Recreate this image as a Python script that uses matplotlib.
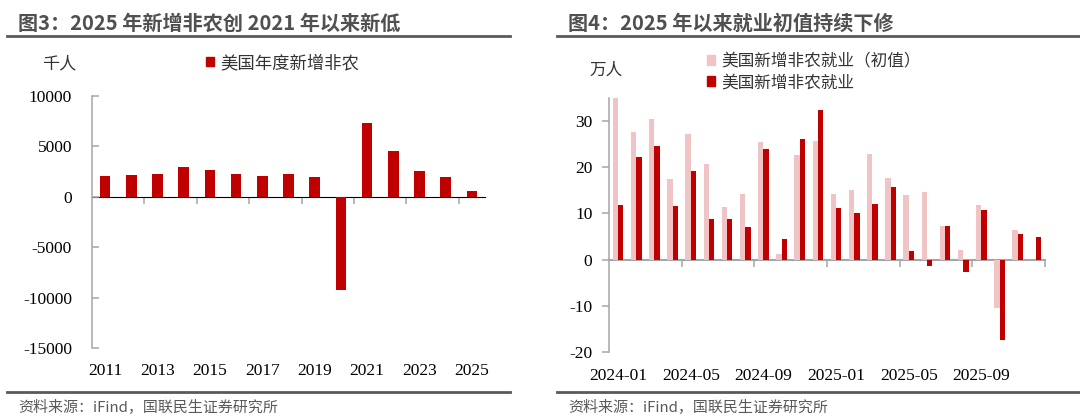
import numpy as np
import matplotlib
matplotlib.use("Agg")
import matplotlib.pyplot as plt
from matplotlib.lines import Line2D
from matplotlib.patches import Patch
from matplotlib.ticker import NullFormatter

plt.rcParams['font.family'] = ['Liberation Serif', 'Noto Sans CJK SC']
plt.rcParams['axes.unicode_minus'] = False

# ---------------- data ----------------
years = ['2011', '2012', '2013', '2014', '2015', '2016', '2017', '2018',
         '2019', '2020', '2021', '2022', '2023', '2024', '2025']
annual_payrolls = [2020, 2185, 2250, 2980, 2680, 2285, 2090, 2250,
                   1990, -9300, 7250, 4500, 2580, 1990, 530]

months = ['2024-01', '2024-02', '2024-03', '2024-04', '2024-05', '2024-06',
          '2024-07', '2024-08', '2024-09', '2024-10', '2024-11', '2024-12',
          '2025-01', '2025-02', '2025-03', '2025-04', '2025-05', '2025-06',
          '2025-07', '2025-08', '2025-09', '2025-10', '2025-11', '2025-12']
initial_payrolls = [35.3, 27.5, 30.3, 17.5, 27.2, 20.6, 11.4, 14.2, 25.4, 1.2,
                    22.7, 25.6, 14.3, 15.1, 22.8, 17.7, 13.9, 14.7, 7.3, 2.2,
                    11.9, -10.5, 6.4, np.nan]
revised_payrolls = [11.8, 22.2, 24.6, 11.7, 19.2, 8.7, 8.8, 7.1, 24.0, 4.4,
                    26.1, 32.3, 11.1, 10.2, 12.0, 15.8, 1.9, -1.3, 7.2, -2.6,
                    10.8, -17.3, 5.6, 5.0]

left_title = '图3：2025 年新增非农创 2021 年以来新低'
right_title = '图4：2025 年以来就业初值持续下修'
source_text = '资料来源：iFind，国联民生证券研究所'

# ---------------- style ----------------
W, H = 1080, 419
DARK = '#C00000'
LIGHT = '#F0C4C4'
AX_GRAY = '#A6A6A6'
TITLE_GRAY = '#505050'
CJK = ['Noto Sans CJK SC', 'DejaVu Sans']

fig = plt.figure(figsize=(W / 100, H / 100), dpi=100)


def fx(px):
    return px / W


def fy(py):
    return 1 - py / H


# titles and rules
for x0, x1, tx, title in [(7, 510, 18, left_title), (557, 1080, 568, right_title)]:
    fig.text(fx(tx), fy(23), title, fontsize=14.5, fontweight='bold',
             color=TITLE_GRAY, family=CJK, va='center', ha='left')
    fig.add_artist(Line2D([fx(x0), fx(x1)], [fy(36), fy(36)],
                          color='#595959', lw=2.0))
    fig.add_artist(Line2D([fx(x0), fx(x1)], [fy(392), fy(392)],
                          color='#595959', lw=2.0))
    fig.text(fx(tx), fy(407.5), source_text, fontsize=10.8, color='#595959',
             family=CJK, va='center', ha='left')

# ---------------- left chart ----------------
axL = fig.add_axes([fx(92), fy(348), fx(393), (348 - 95.7) / H])
xL = np.arange(len(years))
axL.bar(xL, annual_payrolls, width=0.4, color=DARK, zorder=3)
axL.set_xlim(-0.5, len(years) - 0.5)
axL.set_ylim(-15000, 10000)
axL.set_yticks([10000, 5000, 0, -5000, -10000, -15000])
for s in ['top', 'right', 'bottom']:
    axL.spines[s].set_visible(False)
axL.spines['left'].set_color(AX_GRAY)
axL.spines['left'].set_linewidth(1.1)
axL.tick_params(axis='y', direction='in', length=5, width=1.1, color=AX_GRAY,
                pad=14.4, labelsize=12.5, labelcolor='black')
axL.set_xticks(xL[::2])
axL.set_xticklabels(years[::2])
axL.tick_params(axis='x', length=0, pad=11, labelsize=12.5, labelcolor='black')
zero_frac_L = (0 - (-15000)) / (10000 - (-15000))
secL = axL.secondary_xaxis(zero_frac_L)
secL.set_xticks(np.arange(1.5, len(years) - 1, 2))
secL.xaxis.set_major_formatter(NullFormatter())
secL.tick_params(axis='x', direction='in', length=5, width=1.1, color=AX_GRAY,
                 labelbottom=False, labeltop=False)
secL.spines['bottom'].set_color(AX_GRAY)
secL.spines['bottom'].set_linewidth(1.5)

fig.text(fx(59), fy(63), '千人', fontsize=12.3, color='#333333', family=CJK,
         va='center', ha='center')
legL = fig.legend(handles=[Patch(color=DARK, label='美国年度新增非农')],
                  loc='center left', bbox_to_anchor=(fx(206), fy(63)),
                  frameon=False, borderpad=0, borderaxespad=0,
                  handlelength=0.45, handleheight=0.45, handletextpad=0.4,
                  prop={'family': CJK, 'size': 12.5})
for t in legL.get_texts():
    t.set_color('#333333')

# ---------------- right chart ----------------
axR = fig.add_axes([fx(609), fy(352.3), fx(436), (352.3 - 97.7) / H])
xR = np.arange(len(months))
bw = 0.29
axR.bar(xR - bw / 2, initial_payrolls, width=bw, color=LIGHT, zorder=3,
        label='美国新增非农就业（初值）')
axR.bar(xR + bw / 2, revised_payrolls, width=bw, color=DARK, zorder=3,
        label='美国新增非农就业')
axR.set_xlim(-0.5, len(months) - 0.5)
axR.set_ylim(-20, 35)
axR.set_yticks([30, 20, 10, 0, -10, -20])
for s in ['top', 'right', 'bottom']:
    axR.spines[s].set_visible(False)
axR.spines['left'].set_color(AX_GRAY)
axR.spines['left'].set_linewidth(1.1)
axR.tick_params(axis='y', direction='out', length=5, width=1.1, color=AX_GRAY,
                pad=7, labelsize=12.5, labelcolor='black')
axR.set_xticks(xR[::4])
axR.set_xticklabels(months[::4])
axR.tick_params(axis='x', length=0, pad=11, labelsize=12.5, labelcolor='black')
zero_frac_R = (0 - (-20)) / (35 - (-20))
secR = axR.secondary_xaxis(zero_frac_R)
secR.set_xticks(np.arange(3.5, len(months), 4))
secR.xaxis.set_major_formatter(NullFormatter())
secR.tick_params(axis='x', direction='out', length=5, width=1.1, color=AX_GRAY,
                 labelbottom=False, labeltop=False)
secR.spines['bottom'].set_color(AX_GRAY)
secR.spines['bottom'].set_linewidth(1.5)

fig.text(fx(606), fy(70), '万人', fontsize=12, color='#333333', family=CJK,
         va='center', ha='center')
legR = fig.legend(handles=[Patch(color=LIGHT, label='美国新增非农就业（初值）'),
                           Patch(color=DARK, label='美国新增非农就业')],
                  loc='upper left', bbox_to_anchor=(fx(707), fy(53)),
                  frameon=False, borderpad=0, borderaxespad=0,
                  handlelength=0.5, handleheight=0.5, handletextpad=0.35,
                  labelspacing=0.25,
                  prop={'family': CJK, 'size': 12})
for t in legR.get_texts():
    t.set_color('#333333')

fig.savefig('out.png', dpi=100)
